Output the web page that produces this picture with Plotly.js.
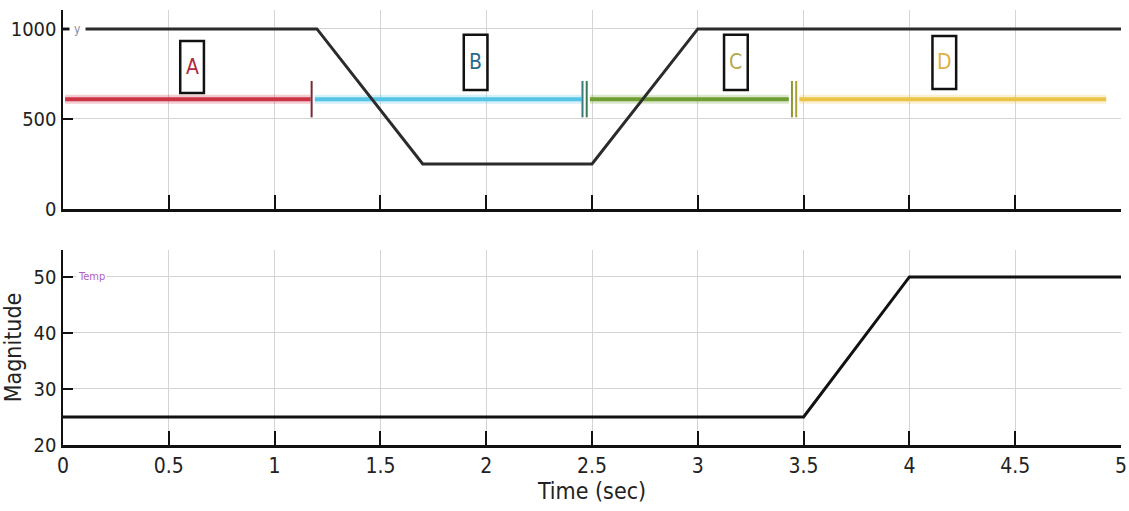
<!DOCTYPE html>
<html>
<head>
<meta charset="utf-8">
<script src="https://cdn.plot.ly/plotly-3.0.1.min.js"></script>
<style>html,body{margin:0;padding:0;background:#fff;}#chart{width:1129px;height:511px;}</style>
</head>
<body>
<div id="chart"></div>
<script>
// ---- data ----
const timeY = [0, 1.2, 1.7, 2.5, 3.0, 5.0];
const valueY = [1000, 1000, 250, 250, 1000, 1000];

const timeTemp = [0, 3.5, 4.0, 5.0];
const valueTemp = [25, 25, 50, 50];

const segLabels = ['A', 'B', 'C', 'D'];
const segStart = [0.01, 1.19, 2.49, 3.48];
const segEnd = [1.17, 2.45, 3.43, 4.93];
const segLevel = [610, 610, 610, 610];
const segColors = ['#cc3344', '#55c4e6', '#6f9e34', '#ebc34a'];
const labelColors = ['#b02a3c', '#2a6a90', '#b8a848', '#e0b040'];
const labelX = [0.61, 1.95, 3.18, 4.165];
const labelY = [789, 814, 814, 814];

const boundaryX = [1.175, 2.455, 2.475, 3.445, 3.465];
const boundaryColors = ['#7a2838', '#3a7a80', '#3a7a50', '#8a9a30', '#b0a030'];

const xTicks = [0, 0.5, 1, 1.5, 2, 2.5, 3, 3.5, 4, 4.5, 5];
const xTickText = ['0', '0.5', '1', '1.5', '2', '2.5', '3', '3.5', '4', '4.5', '5'];

// ---- traces ----
const FONT = '"DejaVu Sans Condensed", "Liberation Sans", sans-serif';
const traces = [];

segLabels.forEach((lab, i) => {
  traces.push({
    x: [segStart[i], segEnd[i]], y: [segLevel[i], segLevel[i]],
    xaxis: 'x', yaxis: 'y', mode: 'lines',
    line: {color: segColors[i], width: 9}, opacity: 0.25,
    hoverinfo: 'skip', showlegend: false
  });
  traces.push({
    x: [segStart[i], segEnd[i]], y: [segLevel[i], segLevel[i]],
    xaxis: 'x', yaxis: 'y', mode: 'lines',
    line: {color: segColors[i], width: 4},
    name: lab, showlegend: false
  });
});

traces.push({
  x: boundaryX, y: boundaryX.map(() => segLevel[0]),
  xaxis: 'x', yaxis: 'y', mode: 'markers',
  marker: {symbol: 'line-ns', size: 26, line: {width: 2, color: boundaryColors}},
  hoverinfo: 'skip', showlegend: false
});

traces.push({
  x: timeY, y: valueY, xaxis: 'x', yaxis: 'y', mode: 'lines',
  line: {color: '#2b2b2b', width: 3}, name: 'y', showlegend: false
});

traces.push({
  x: timeTemp, y: valueTemp, xaxis: 'x2', yaxis: 'y2', mode: 'lines',
  line: {color: '#111111', width: 3}, name: 'Temp', showlegend: false
});

// ---- boxes + letters ----
const shapes = [];
const annotations = [];
const boxHalfW = 0.056;
const boxLow = [644, 661, 661, 667];
const boxHigh = [933, 967, 967, 961];
segLabels.forEach((lab, i) => {
  shapes.push({
    type: 'rect', xref: 'x', yref: 'y',
    x0: labelX[i] - boxHalfW, x1: labelX[i] + boxHalfW,
    y0: boxLow[i], y1: boxHigh[i],
    line: {color: '#111', width: 2.5}, fillcolor: 'rgba(255,255,255,0)'
  });
  annotations.push({
    xref: 'x', yref: 'y', x: labelX[i], y: labelY[i], text: lab,
    showarrow: false, font: {family: FONT, size: 21, color: labelColors[i]}
  });
});

annotations.push({
  xref: 'x', yref: 'y', x: 0.03, y: 1000, xanchor: 'left', text: 'y',
  showarrow: false, bgcolor: '#ffffff', borderpad: 4,
  font: {family: FONT, size: 12, color: '#8a8a9a'}
});
annotations.push({
  xref: 'x2', yref: 'y2', x: 0.06, y: 50, xanchor: 'left', text: 'Temp',
  showarrow: false, bgcolor: '#ffffff', borderpad: 1,
  font: {family: FONT, size: 11, color: '#b060c0'}
});

const axisCommon = {
  showline: true, linecolor: '#111', linewidth: 2.5,
  ticks: 'inside', tickcolor: '#111', tickwidth: 2,
  showgrid: true, gridcolor: '#d4d4d4', gridwidth: 1,
  zeroline: false, mirror: false,
  ticklabeloverflow: 'allow',
  tickfont: {family: FONT, size: 20, color: '#222'}
};

const layout = {
  width: 1129, height: 511,
  margin: {l: 63, r: 8, t: 10, b: 66},
  paper_bgcolor: '#ffffff', plot_bgcolor: '#ffffff',
  showlegend: false,
  xaxis: Object.assign({}, axisCommon, {
    domain: [0, 1], anchor: 'y', range: [0, 5],
    tickvals: xTicks, ticktext: xTickText, showticklabels: false, ticklen: 14
  }),
  yaxis: Object.assign({}, axisCommon, {
    domain: [0.5425, 1], anchor: 'x', range: [0, 1105],
    tickvals: [0, 500, 1000], ticktext: ['0', '500', '1000'], ticklen: 10
  }),
  xaxis2: Object.assign({}, axisCommon, {
    domain: [0, 1], anchor: 'y2', range: [0, 5],
    tickvals: xTicks, ticktext: xTickText, ticklen: 14,
    tickfont: {family: FONT, size: 21, color: '#222'},
    title: {text: 'Time (sec)', font: {family: FONT, size: 23, color: '#222'}, standoff: 2}
  }),
  yaxis2: Object.assign({}, axisCommon, {
    domain: [0, 0.4483], anchor: 'x2', range: [20, 54.8],
    tickvals: [20, 30, 40, 50], ticktext: ['20', '30', '40', '50'], ticklen: 10,
    title: {text: 'Magnitude', font: {family: FONT, size: 23, color: '#222'}, standoff: 6}
  }),
  shapes: shapes,
  annotations: annotations
};

Plotly.newPlot('chart', traces, layout, {staticPlot: true, displayModeBar: false});
</script>
</body>
</html>
